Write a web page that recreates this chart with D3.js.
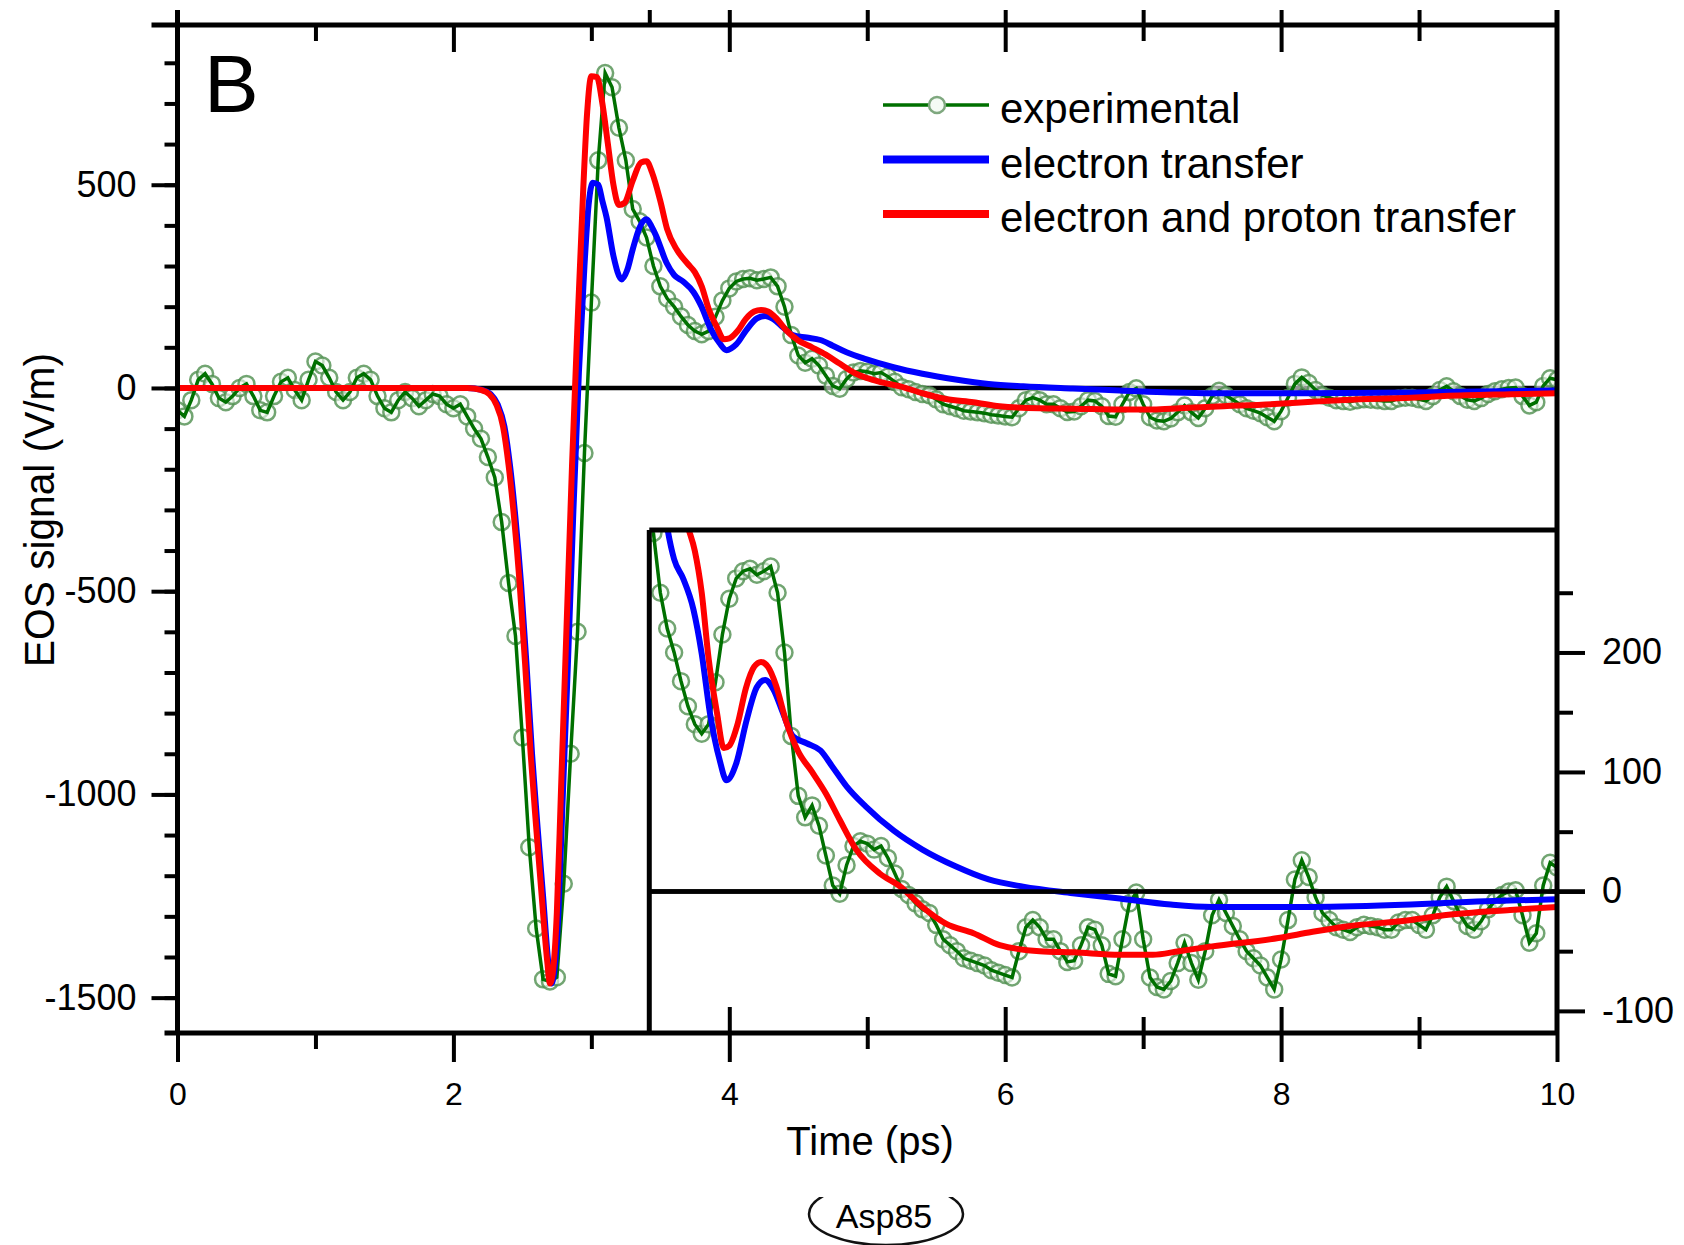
<!DOCTYPE html>
<html>
<head>
<meta charset="utf-8">
<script src="https://cdn.jsdelivr.net/npm/d3@7"></script>
<style>
  body { margin: 0; background: #fff; }
  svg text { font-family: "Liberation Sans", Arial, sans-serif; fill: #000; }
  .tick line { stroke: #000; stroke-width: 4; }
</style>
</head>
<body>
<svg id="chart" width="1684" height="1245"></svg>
<script>
"use strict";

// experimental EOS trace, one sample every 0.05 ps starting at 0 ps
var expStart = 0;
var expStep = 0.05;
var expValues = [
  -55, -70, -30, 20, 35, 10, -25, -35, -20, 0, 10, -20, -55, -60, -20, 15, 25, -5, -30, 20,
  65, 55, 25, -10, -30, -10, 25, 35, 20, -20, -50, -60, -30, -10, -25, -45, -30, -15, -20, -40,
  -50, -40, -70, -100, -125, -170, -220, -330, -480, -610, -860, -1130, -1330, -1455, -1460, -1450, -1220, -900, -600, -160,
  210, 560, 775, 740, 640, 560, 440, 410, 370, 300, 250, 220, 200, 176, 155, 140, 132, 140, 175, 215,
  245, 262, 268, 270, 265, 268, 272, 250, 200, 130, 80, 62, 72, 55, 30, 5, -2, 22, 38, 42,
  40, 35, 38, 28, 15, 2, -3, -10, -15, -18, -28, -40, -45, -50, -56, -58, -60, -62, -66, -68,
  -70, -72, -50, -30, -24, -30, -40, -40, -50, -59, -58, -45, -30, -32, -45, -69, -71, -40, -10, -1,
  -40, -72, -80, -82, -75, -60, -43, -60, -74, -50, -20, -7, -18, -29, -40, -50, -56, -62, -72, -82,
  -57, -24, 10, 26, 12, -5, -18, -24, -30, -32, -34, -30, -28, -29, -30, -32, -32, -26, -24, -24,
  -28, -32, -20, -5, 4, -8, -20, -29, -32, -25, -15, -8, -3, 0, 1, -20, -43, -35, 5, 24,
  20
];

// model: electron transfer [time ps, V/m]
var etCurve = [
  [0, 0], [2.10, 0], [2.21, -5], [2.27, -15], [2.32, -40], [2.37, -95], [2.41, -190], [2.45, -320],
  [2.49, -480], [2.53, -680], [2.57, -900], [2.61, -1080], [2.65, -1250], [2.69, -1420], [2.71, -1465],
  [2.73, -1440], [2.76, -1300], [2.79, -1030], [2.83, -680], [2.87, -300], [2.91, 40], [2.95, 300],
  [2.98, 450], [3.01, 505], [3.05, 500], [3.08, 460], [3.11, 420], [3.16, 325], [3.22, 267],
  [3.26, 290], [3.30, 341], [3.35, 395], [3.40, 415], [3.44, 395], [3.47, 374], [3.545, 308],
  [3.60, 278], [3.665, 262], [3.74, 236], [3.80, 199], [3.86, 149], [3.93, 110], [3.98, 93],
  [4.05, 107], [4.125, 143], [4.20, 171], [4.26, 177], [4.32, 169], [4.39, 149], [4.46, 130],
  [4.56, 124], [4.66, 118], [4.75, 104], [4.85, 88], [4.99, 71], [5.19, 51], [5.40, 35], [5.64, 21],
  [5.88, 10], [6.13, 4], [6.49, -1.5], [6.83, -6], [7.20, -11], [7.50, -13], [8.22, -13],
  [8.94, -11], [9.42, -8.5], [10, -6.5]
];

// model: electron and proton transfer [time ps, V/m]
var eptCurve = [
  [0, 0], [2.10, 0], [2.20, -5], [2.26, -15], [2.31, -40], [2.36, -95], [2.40, -190], [2.44, -320],
  [2.48, -480], [2.52, -680], [2.56, -900], [2.60, -1080], [2.64, -1250], [2.68, -1410], [2.70, -1465],
  [2.72, -1440], [2.75, -1290], [2.78, -990], [2.82, -590], [2.86, -190], [2.90, 160], [2.94, 480],
  [2.97, 680], [3.00, 767], [3.04, 765], [3.08, 700], [3.12, 600], [3.16, 500], [3.20, 450],
  [3.24, 455], [3.30, 510], [3.36, 555], [3.40, 558], [3.44, 530], [3.50, 460], [3.55, 390],
  [3.62, 340], [3.70, 305], [3.75, 285], [3.80, 250], [3.85, 195], [3.91, 150], [3.96, 120],
  [4.00, 122], [4.06, 140], [4.12, 170], [4.18, 188], [4.23, 192], [4.28, 188], [4.34, 172],
  [4.41, 143], [4.50, 117], [4.60, 100], [4.70, 82], [4.80, 60], [4.92, 35], [5.09, 15], [5.24, 4],
  [5.40, -13], [5.57, -27], [5.77, -35], [5.96, -45], [6.25, -50], [6.50, -51], [6.83, -53],
  [7.07, -53], [7.26, -50], [7.50, -46], [7.98, -39], [8.22, -34], [8.46, -29.5], [8.94, -24],
  [9.18, -20], [9.66, -15.5], [10, -13]
];

var xMajor = [0, 2, 4, 6, 8, 10];
var xMinor = [1, 3, 5, 7, 9];
var yMajor = [-1500, -1000, -500, 0, 500];
var yMinor = [-1500, -1400, -1300, -1200, -1100, -1000, -900, -800, -700, -600, -500, -400,
  -300, -200, -100, 0, 100, 200, 300, 400, 500, 600, 700, 800];
var insetMajor = [-100, 0, 100, 200];
var insetMinor = [-50, 50, 150, 250];
var insetStart = 3.42;
var insetTopTicks = [3.42, 4, 5, 6, 7, 8, 9];
var legendLabels = ["experimental", "electron transfer", "electron and proton transfer"];

var green = "#007000", blue = "#0000ff", red = "#ff0000";
var markerStroke = "#4f8f4f", markerFill = "#f4fbf4";

var svg = d3.select("#chart");
svg.append("rect").attr("width", 1684).attr("height", 1245).attr("fill", "#fff");

var x = d3.scaleLinear().domain([0, 10]).range([177.5, 1557]);
var y = d3.scaleLinear().domain([-1587, 893]).range([1033, 25]);
var yIn = d3.scaleLinear().domain([-118.5, 302.5]).range([1033, 530]);

var expData = expValues.map(function (v, i) { return [expStart + i * expStep, v]; });

function drawAxis(axis, tx, ty, fontSize) {
  var g = svg.append("g")
    .attr("transform", "translate(" + tx + "," + ty + ")")
    .call(axis);
  g.select(".domain").remove();
  g.selectAll("text").attr("font-size", fontSize).attr("fill", "#000");
  return g;
}

function label(d) { return String(d); }

function hline(y0, x0, x1, w) {
  svg.append("line").attr("x1", x0).attr("x2", x1).attr("y1", y0).attr("y2", y0)
    .attr("stroke", "#000").attr("stroke-width", w);
}
function vline(x0, y0, y1, w) {
  svg.append("line").attr("x1", x0).attr("x2", x0).attr("y1", y0).attr("y2", y1)
    .attr("stroke", "#000").attr("stroke-width", w);
}

// clip regions
var defs = svg.append("defs");
defs.append("clipPath").attr("id", "mainClip").append("rect")
  .attr("x", x(0)).attr("y", y.range()[1])
  .attr("width", x(10) - x(0)).attr("height", y.range()[0] - y.range()[1]);
defs.append("clipPath").attr("id", "insetClip").append("rect")
  .attr("x", x(insetStart)).attr("y", yIn.range()[1])
  .attr("width", x(10) - x(insetStart)).attr("height", yIn.range()[0] - yIn.range()[1]);
defs.append("clipPath").attr("id", "ovalClip").append("rect")
  .attr("x", 780).attr("y", 1197).attr("width", 220).attr("height", 60);

function drawSeries(layer, ys) {
  var lineLin = d3.line().x(function (d) { return x(d[0]); }).y(function (d) { return ys(d[1]); });
  var lineSmooth = d3.line().curve(d3.curveMonotoneX)
    .x(function (d) { return x(d[0]); }).y(function (d) { return ys(d[1]); });

  layer.append("line")
    .attr("x1", x(0)).attr("x2", x(10)).attr("y1", ys(0)).attr("y2", ys(0))
    .attr("stroke", "#000").attr("stroke-width", 4.5);

  layer.selectAll("circle.exp").data(expData).enter()
    .append("circle").attr("class", "exp")
    .attr("cx", function (d) { return x(d[0]); })
    .attr("cy", function (d) { return ys(d[1]); })
    .attr("r", 8)
    .attr("fill", markerFill).attr("fill-opacity", 0.6)
    .attr("stroke", markerStroke).attr("stroke-opacity", 0.8).attr("stroke-width", 2.5);

  layer.append("path").datum(expData)
    .attr("d", lineLin).attr("fill", "none")
    .attr("stroke", green).attr("stroke-width", 3.5);

  layer.append("path").datum(etCurve)
    .attr("d", lineSmooth).attr("fill", "none")
    .attr("stroke", blue).attr("stroke-width", 6);

  layer.append("path").datum(eptCurve)
    .attr("d", lineSmooth).attr("fill", "none")
    .attr("stroke", red).attr("stroke-width", 6);
}

// main panel
var mainLayer = svg.append("g").attr("clip-path", "url(#mainClip)");
drawSeries(mainLayer, y);

// inset panel (same data, zoomed y)
svg.append("rect")
  .attr("x", x(insetStart)).attr("y", yIn.range()[1])
  .attr("width", x(10) - x(insetStart)).attr("height", yIn.range()[0] - yIn.range()[1])
  .attr("fill", "#fff");
var insetLayer = svg.append("g").attr("clip-path", "url(#insetClip)");
drawSeries(insetLayer, yIn);

// inset zero line runs out as the right-hand 0 tick
hline(yIn(0), x(insetStart), x(10) + 28, 4.5);

// left axis
drawAxis(d3.axisLeft(y).tickValues(yMinor).tickSize(13).tickFormat(""), x(0), 0, 0);
drawAxis(d3.axisLeft(y).tickValues(yMajor).tickSize(26).tickPadding(15).tickFormat(label), x(0), 0, 36);

// bottom axis: outward main ticks, inward inset ticks
drawAxis(d3.axisBottom(x).tickValues(xMinor).tickSize(16).tickFormat(""), 0, y.range()[0], 0);
drawAxis(d3.axisBottom(x).tickValues(xMajor).tickSize(29).tickPadding(20).tickFormat(label), 0, y.range()[0], 32);
drawAxis(d3.axisTop(x).tickValues([5, 7, 9]).tickSize(16).tickFormat(""), 0, y.range()[0], 0);
drawAxis(d3.axisTop(x).tickValues([4, 6, 8]).tickSize(26).tickFormat(""), 0, y.range()[0], 0);

// top axis: inward ticks, plus outward ticks over the inset span
drawAxis(d3.axisBottom(x).tickValues(xMinor).tickSize(16).tickFormat(""), 0, y.range()[1], 0);
drawAxis(d3.axisBottom(x).tickValues([2, 4, 6, 8]).tickSize(27).tickFormat(""), 0, y.range()[1], 0);
drawAxis(d3.axisTop(x).tickValues(insetTopTicks).tickSize(15).tickFormat(""), 0, y.range()[1], 0);

// inset right axis
drawAxis(d3.axisRight(yIn).tickValues(insetMinor).tickSize(16).tickFormat(""), x(10), 0, 0);
drawAxis(d3.axisRight(yIn).tickValues(insetMajor).tickSize(28).tickPadding(17).tickFormat(label), x(10), 0, 36);

// frames
vline(x(0), 10, y.range()[0], 5);
vline(x(10), 10, y.range()[0], 5);
hline(y.range()[1], x(0) - 26, x(10), 5);
hline(y.range()[0], x(0) - 13, x(10), 5);
hline(yIn.range()[1], x(insetStart), x(10), 5);
vline(x(insetStart), yIn.range()[1], yIn.range()[0], 5);

// panel letter
svg.append("text").attr("x", 204).attr("y", 112).attr("font-size", 82).text("B");

// axis titles
svg.append("text")
  .attr("transform", "translate(54,510) rotate(-90)")
  .attr("text-anchor", "middle").attr("font-size", 42)
  .attr("textLength", 314).attr("lengthAdjust", "spacingAndGlyphs")
  .text("EOS signal (V/m)");
svg.append("text")
  .attr("x", 870).attr("y", 1155)
  .attr("text-anchor", "middle").attr("font-size", 40)
  .text("Time (ps)");

// legend
var legend = svg.append("g").attr("transform", "translate(883,105)");
var legendRows = legend.selectAll("g").data(legendLabels).enter()
  .append("g").attr("transform", function (d, i) { return "translate(0," + (i * 54.5) + ")"; });
legendRows.append("line")
  .attr("x1", 0).attr("x2", 106).attr("y1", 0).attr("y2", 0)
  .attr("stroke", function (d, i) { return [green, blue, red][i]; })
  .attr("stroke-width", function (d, i) { return i === 0 ? 3.5 : 8; });
legendRows.filter(function (d, i) { return i === 0; })
  .append("circle").attr("cx", 54).attr("cy", 0).attr("r", 8)
  .attr("fill", markerFill).attr("stroke", "#7fa87f").attr("stroke-width", 2.5);
legendRows.append("text")
  .attr("x", 117).attr("y", 18).attr("font-size", 42)
  .text(function (d) { return d; });

// residue tag below the chart
svg.append("ellipse")
  .attr("cx", 886).attr("cy", 1214).attr("rx", 77).attr("ry", 31)
  .attr("fill", "none").attr("stroke", "#111").attr("stroke-width", 2.5)
  .attr("clip-path", "url(#ovalClip)");
svg.append("text")
  .attr("x", 884).attr("y", 1228)
  .attr("text-anchor", "middle").attr("font-size", 34)
  .attr("font-family", "'DejaVu Sans', sans-serif")
  .text("Asp85");
</script>
</body>
</html>
